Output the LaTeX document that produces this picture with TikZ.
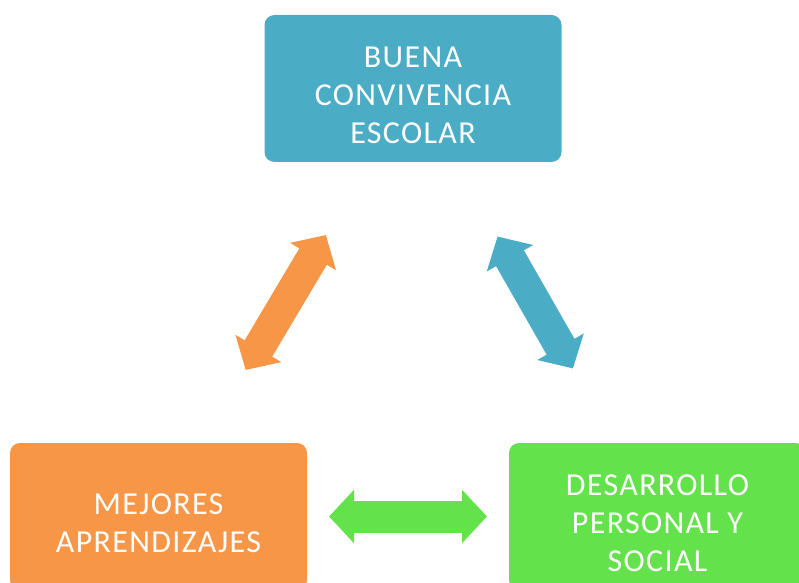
\documentclass[tikz,border=0pt]{standalone}
\usepackage{fontspec}
\setmainfont{Carlito}[LetterSpace=4.2]
\usetikzlibrary{arrows.meta}

\definecolor{teal}{RGB}{75,172,198}
\definecolor{naranja}{RGB}{247,150,70}
\definecolor{verde}{RGB}{99,226,75}

\begin{document}
\begin{tikzpicture}[x=1pt,y=1pt,
    caja/.style={rounded corners=10pt,minimum width=297pt,minimum height=147pt,inner sep=0pt},
    texto/.style={text=white,align=center,font=\fontsize{32}{38}\selectfont},
    flecha/.style={line width=32pt,{Triangle[length=25pt,width=52pt]}-{Triangle[length=25pt,width=52pt]},shorten <=170.5pt,shorten >=170.5pt}]
  \clip (0,0) rectangle (799,582);
  \node[caja,fill=teal] (buena) at (413,493.5) {};
  \node[caja,fill=naranja] (mejores) at (158.5,65.5) {};
  \node[caja,fill=verde] (desarrollo) at (657.5,65.5) {};
  \node[texto] (buenatxt) at ([yshift=-6.5pt]buena.center) {BUENA\\CONVIVENCIA\\ESCOLAR};
  \node[texto] (mejorestxt) at ([yshift=-6.5pt]mejores.center) {MEJORES\\APRENDIZAJES};
  \node[texto] (desarrollotxt) at ([yshift=-6.5pt]desarrollo.center) {DESARROLLO\\PERSONAL Y\\SOCIAL};
  \draw[flecha,naranja] (mejores.center) -- (buena.center);
  \draw[flecha,teal] (buena.center) -- (desarrollo.center);
  \draw[flecha,verde] (mejores.center) -- (desarrollo.center);
\end{tikzpicture}
\end{document}
